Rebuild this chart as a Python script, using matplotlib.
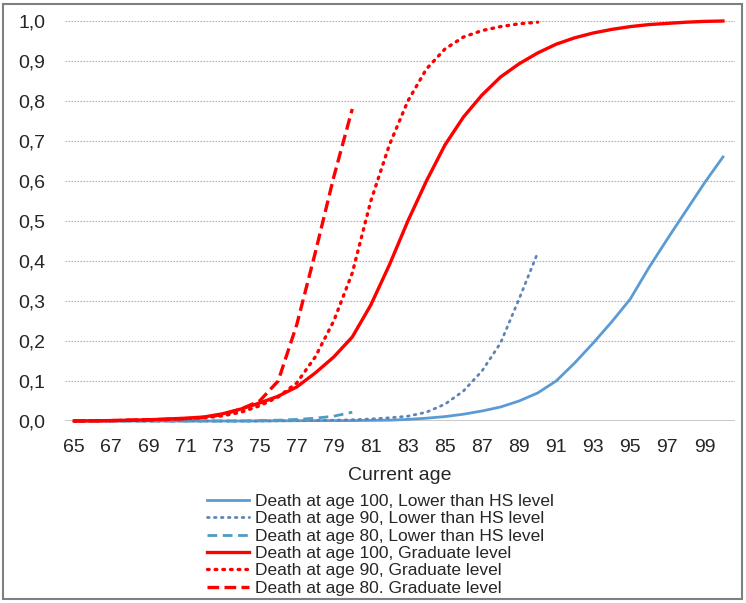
import numpy as np
import matplotlib.pyplot as plt
from matplotlib.patches import Rectangle

plt.rcParams['font.family'] = ['Liberation Sans', 'DejaVu Sans']

# edades (eje x)
ages_100 = list(range(65, 101))
ages_90 = list(range(65, 91))
ages_80 = list(range(65, 81))

# Lower than HS level
low_100 = [0.0, 0.0, 0.0, 0.0, 0.0, 0.0, 0.0, 0.0, 0.0, 0.0,
           0.0, 0.0005, 0.0007, 0.001, 0.001, 0.001, 0.0015, 0.002, 0.004, 0.007,
           0.011, 0.017, 0.025, 0.035, 0.05, 0.07, 0.1, 0.145, 0.195, 0.248,
           0.305, 0.383, 0.455, 0.525, 0.595, 0.66]
low_90 = [0.0, 0.0, 0.0, 0.0, 0.0, 0.0, 0.0, 0.0, 0.0, 0.0,
          0.0, 0.0005, 0.001, 0.001, 0.002, 0.003, 0.005, 0.008, 0.012, 0.022,
          0.042, 0.075, 0.125, 0.195, 0.305, 0.42]
low_80 = [0.0, 0.0, 0.0, 0.0, 0.0, 0.0, 0.0, 0.0, 0.0, 0.0,
          0.001, 0.002, 0.004, 0.007, 0.012, 0.022]

# Graduate level
grad_100 = [0.0, 0.0005, 0.001, 0.002, 0.003, 0.005, 0.007, 0.01, 0.018, 0.03,
            0.045, 0.062, 0.085, 0.12, 0.16, 0.21, 0.29, 0.39, 0.50, 0.60,
            0.69, 0.76, 0.815, 0.86, 0.893, 0.92, 0.942, 0.958, 0.97, 0.979,
            0.986, 0.991, 0.994, 0.997, 0.999, 1.0]
grad_90 = [0.0, 0.0005, 0.001, 0.002, 0.003, 0.004, 0.006, 0.008, 0.013, 0.022,
           0.038, 0.06, 0.095, 0.16, 0.25, 0.37, 0.55, 0.69, 0.80, 0.88,
           0.93, 0.96, 0.976, 0.986, 0.993, 0.997]
grad_80 = [0.0, 0.0005, 0.001, 0.002, 0.003, 0.004, 0.006, 0.009, 0.016, 0.03,
           0.05, 0.10, 0.24, 0.42, 0.61, 0.78]

labels = ['Death at age 100, Lower than HS level',
          'Death at age 90, Lower than HS level',
          'Death at age 80, Lower than HS level',
          'Death at age 100, Graduate level',
          'Death at age 90, Graduate level',
          'Death at age 80. Graduate level']

fig = plt.figure(figsize=(7.46, 6.03), dpi=100)
ax = fig.add_axes([65 / 746, 1 - 421 / 603, 670 / 746, 400 / 603])

# grid
for v in np.arange(0.1, 1.01, 0.1):
    ax.axhline(v, color='#b0b0b0', lw=0.8, ls=(0, (1.5, 1.2)), zorder=0)
ax.axhline(0, color='#bfbfbf', lw=1.2, zorder=0)

blue = '#5B9BD5'
red = '#FF0000'
ax.plot(ages_100, low_100, color=blue, lw=2.0, label=labels[0], clip_on=False)
ax.plot(ages_90, low_90, color='#5E84B8', lw=2.0, ls=(0, (0.6, 1.9)),
        dash_capstyle='round', label=labels[1], clip_on=False)
ax.plot(ages_80, low_80, color='#4F9BC5', lw=2.0, ls=(0, (3.5, 2)),
        label=labels[2], clip_on=False)
ax.plot(ages_100, grad_100, color=red, lw=2.4, label=labels[3], clip_on=False)
ax.plot(ages_90, grad_90, color=red, lw=2.4, ls=(0, (0.5, 1.8)),
        dash_capstyle='round', label=labels[4], clip_on=False)
ax.plot(ages_80, grad_80, color=red, lw=2.4, ls=(0, (3.5, 1.6)),
        label=labels[5], clip_on=False)

ax.set_xlim(64.5, 100.65)
ax.set_ylim(0, 1.0)
ax.set_xticks(range(65, 100, 2))
ax.set_yticks(np.arange(0, 1.01, 0.1))
ax.set_yticklabels([f'{v:.1f}'.replace('.', ',') for v in np.arange(0, 1.01, 0.1)])
ax.tick_params(length=0, labelsize=14, colors='#262626')
ax.tick_params(axis='x', pad=13)
ax.tick_params(axis='y', pad=14)
for s in ax.spines.values():
    s.set_visible(False)

ax.set_xlabel('Current age', fontsize=14, color='#262626', labelpad=8)

ax.legend(loc='upper left', bbox_to_anchor=(207 / 746, 1 - 494 / 603),
          bbox_transform=fig.transFigure, frameon=False, fontsize=12.5,
          handlelength=2.4, handletextpad=0.35, labelspacing=0.125,
          borderpad=0, borderaxespad=0, labelcolor='#262626')

# marco de la figura
fig.patches.append(Rectangle((3 / 746, 4 / 603), 739 / 746, 595 / 603,
                             transform=fig.transFigure, fill=False,
                             edgecolor='#7f7f7f', lw=1.5))

fig.savefig('out.png', dpi=100)
